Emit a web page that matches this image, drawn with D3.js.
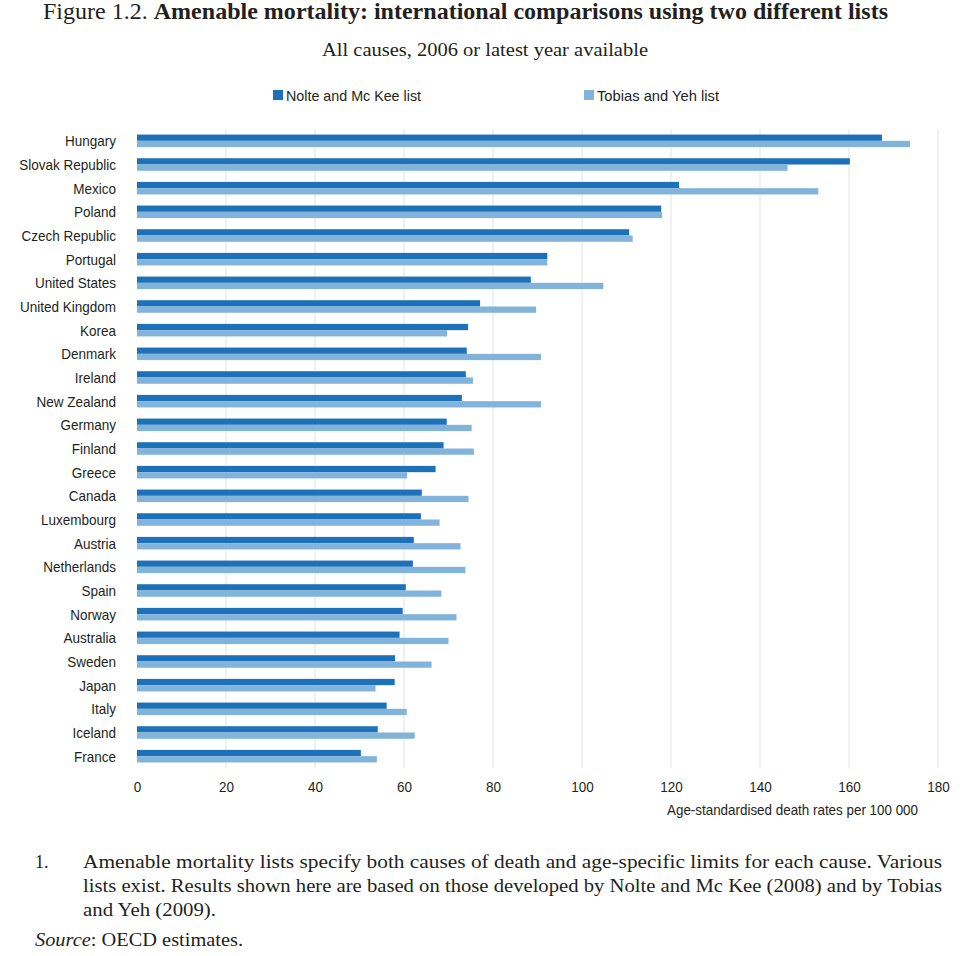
<!DOCTYPE html>
<html>
<head>
<meta charset="utf-8">
<script src="https://cdn.jsdelivr.net/npm/d3@7"></script>
<style>
  body { margin: 0; background: #fff; }
  svg { display: block; }
</style>
</head>
<body>
<svg width="970" height="956"></svg>
<script>
const width = 970;
const height = 956;

const countries = ["Hungary", "Slovak Republic", "Mexico", "Poland", "Czech Republic", "Portugal",
  "United States", "United Kingdom", "Korea", "Denmark", "Ireland", "New Zealand", "Germany",
  "Finland", "Greece", "Canada", "Luxembourg", "Austria", "Netherlands", "Spain", "Norway",
  "Australia", "Sweden", "Japan", "Italy", "Iceland", "France"];
const nolte = [167.4, 160.2, 121.8, 117.8, 110.6, 92.2, 88.5, 77.1, 74.4, 74.1, 73.9, 73.0, 69.6,
  68.9, 67.1, 64.0, 63.8, 62.2, 62.0, 60.4, 59.7, 59.0, 58.0, 57.9, 56.1, 54.1, 50.3];
const tobias = [173.7, 146.2, 153.1, 118.0, 111.4, 92.2, 104.8, 89.7, 69.7, 90.8, 75.5, 90.8, 75.2,
  75.7, 60.7, 74.5, 68.0, 72.7, 73.8, 68.4, 71.8, 70.0, 66.2, 53.6, 60.6, 62.4, 53.9];
const series = ["Nolte and Mc Kee list", "Tobias and Yeh list"];
const xTicks = [0, 20, 40, 60, 80, 100, 120, 140, 160, 180];

const dark = "#1c71b8";
const light = "#82b4db";
const ink = "#231f20";
const sans = "'Liberation Sans', Arial, sans-serif";
const serif = "'Liberation Serif', 'Times New Roman', serif";

let svg = d3.select("svg");

// stretch a text to a given width
function fit(sel, w) {
  sel.attr("textLength", w).attr("lengthAdjust", "spacingAndGlyphs");
}

// squeeze texts by a factor (the source uses a narrow sans)
function condense(sel, f) {
  sel.each(function () {
    let w = this.getComputedTextLength();
    d3.select(this).attr("textLength", w * f).attr("lengthAdjust", "spacingAndGlyphs");
  });
}

// title
let title = svg.append("text")
  .attr("x", 43).attr("y", 19)
  .style("font-family", serif)
  .style("font-size", "22.5px")
  .attr("fill", ink);
title.append("tspan").text("Figure 1.2. ");
title.append("tspan").style("font-weight", "bold")
  .text("Amenable mortality: international comparisons using two different lists");
fit(title, 845);

let sub = svg.append("text")
  .attr("x", 322).attr("y", 56)
  .style("font-family", serif)
  .style("font-size", "18px")
  .attr("fill", ink)
  .text("All causes, 2006 or latest year available");
fit(sub, 326);

// legend
const legendX = [273, 584];
const legendW = [135, 122];
series.forEach((s, i) => {
  svg.append("rect")
    .attr("x", legendX[i]).attr("y", 90)
    .attr("width", 10).attr("height", 10)
    .attr("fill", i === 0 ? dark : light);
  svg.append("text")
    .attr("x", legendX[i] + 13).attr("y", 101)
    .style("font-family", sans)
    .style("font-size", "15px")
    .attr("fill", ink)
    .text(s)
    .call(fit, legendW[i]);
});

// scales
let x = d3.scaleLinear().domain([0, 180]).range([137, 938]);
let y = d3.scaleBand().domain(countries).range([129, 768]).paddingInner(0.47).paddingOuter(0.235);
let y2 = d3.scaleBand().domain([0, 1]).range([0, y.bandwidth()]);

// gridlines
svg.append("g")
  .selectAll("line")
  .data(xTicks.slice(1))
  .join("line")
  .attr("x1", d => x(d)).attr("x2", d => x(d))
  .attr("y1", 129).attr("y2", 768)
  .attr("stroke", "#e3e3e3")
  .attr("stroke-width", 1);

// bars
let rows = svg.append("g")
  .selectAll("g")
  .data(countries)
  .join("g")
  .attr("transform", d => `translate(0,${y(d)})`);

rows.append("rect")
  .attr("x", x(0))
  .attr("y", y2(0))
  .attr("width", (d, i) => x(nolte[i]) - x(0))
  .attr("height", y2.bandwidth())
  .attr("fill", dark);

rows.append("rect")
  .attr("x", x(0))
  .attr("y", y2(1))
  .attr("width", (d, i) => x(tobias[i]) - x(0))
  .attr("height", y2.bandwidth())
  .attr("fill", light);

// category axis
let yAxis = svg.append("g")
  .attr("transform", "translate(116,0)")
  .call(d3.axisLeft(y).tickSize(0).tickPadding(0));
yAxis.select(".domain").remove();
yAxis.selectAll("text")
  .style("font-family", sans)
  .style("font-size", "15px")
  .attr("fill", ink)
  .attr("dy", "0.36em")
  .call(condense, 0.9);

// x axis
let xAxis = svg.append("g")
  .attr("transform", "translate(0,792)")
  .call(d3.axisBottom(x).tickValues(xTicks).tickSize(0).tickPadding(0));
xAxis.select(".domain").remove();
xAxis.selectAll("text")
  .style("font-family", sans)
  .style("font-size", "15px")
  .attr("fill", ink)
  .attr("dy", 0)
  .call(condense, 0.9);

svg.append("text")
  .attr("x", 667).attr("y", 815)
  .style("font-family", sans)
  .style("font-size", "14.5px")
  .attr("fill", ink)
  .text("Age-standardised death rates per 100 000")
  .call(fit, 251);

// notes
const noteLines = [
  "Amenable mortality lists specify both causes of death and age-specific limits for each cause. Various",
  "lists exist. Results shown here are based on those developed by Nolte and Mc Kee (2008) and by Tobias",
  "and Yeh (2009)."
];
const noteW = [859, 859, 133];
let notes = svg.append("g")
  .style("font-family", serif)
  .style("font-size", "18px")
  .attr("fill", ink);
notes.append("text").attr("x", 35).attr("y", 868).text("1.");
noteLines.forEach((l, i) => {
  notes.append("text").attr("x", 83).attr("y", 868 + i * 24).text(l).call(fit, noteW[i]);
});
let src = notes.append("text").attr("x", 35).attr("y", 946);
src.append("tspan").style("font-style", "italic").text("Source");
src.append("tspan").text(": OECD estimates.");
fit(src, 208);
</script>
</body>
</html>
